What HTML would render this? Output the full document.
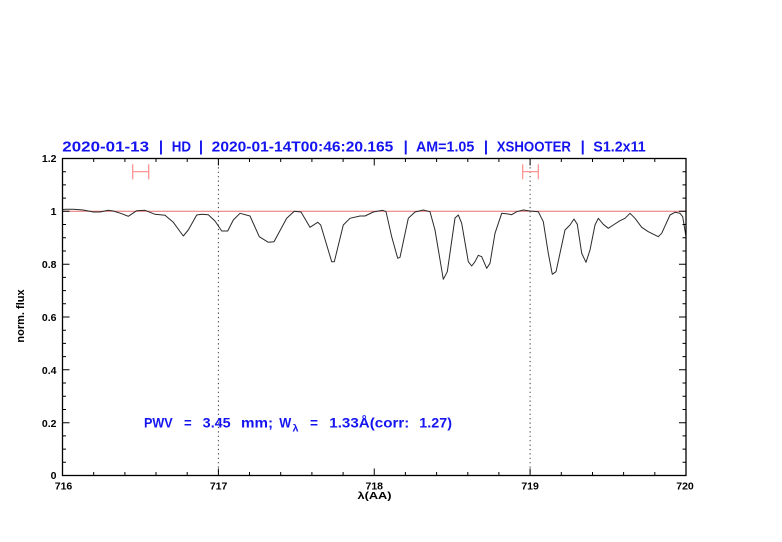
<!DOCTYPE html>
<html>
<head>
<meta charset="utf-8">
<style>
html,body{margin:0;padding:0;background:#fff;}
svg{display:block;}
text{font-family:"Liberation Sans",sans-serif;}
</style>
</head>
<body>
<svg width="782" height="542" viewBox="0 0 782 542" xmlns="http://www.w3.org/2000/svg">
<rect x="0" y="0" width="782" height="542" fill="#fff"/>

<!-- title -->
<g fill="#1414f0" font-size="15" font-weight="bold">
<text x="62.3" y="151.5" textLength="86.7" lengthAdjust="spacingAndGlyphs">2020-01-13</text>
<text x="161" y="151.5" text-anchor="middle">|</text>
<text x="171.7" y="151.5" textLength="19.3" lengthAdjust="spacingAndGlyphs">HD</text>
<text x="201" y="151.5" text-anchor="middle">|</text>
<text x="211.7" y="151.5" textLength="181.6" lengthAdjust="spacingAndGlyphs">2020-01-14T00:46:20.165</text>
<text x="405.7" y="151.5" text-anchor="middle">|</text>
<text x="416" y="151.5" textLength="58.3" lengthAdjust="spacingAndGlyphs">AM=1.05</text>
<text x="486" y="151.5" text-anchor="middle">|</text>
<text x="496.7" y="151.5" textLength="74.3" lengthAdjust="spacingAndGlyphs">XSHOOTER</text>
<text x="582.7" y="151.5" text-anchor="middle">|</text>
<text x="593.3" y="151.5" textLength="52.4" lengthAdjust="spacingAndGlyphs">S1.2x11</text>
</g>

<!-- dotted verticals -->
<g stroke="#333" stroke-width="1" stroke-dasharray="1.2,3.2">
<line x1="218.4" y1="158.5" x2="218.4" y2="475.5"/>
<line x1="530.1" y1="158.5" x2="530.1" y2="475.5"/>
</g>

<!-- continuum line at 1 -->
<line x1="62.5" y1="211.3" x2="686" y2="211.3" stroke="#e87070" stroke-width="1"/>

<!-- error bars -->
<g stroke="#ff8c8c" stroke-width="1.2" fill="none">
<path d="M132.7,171.7H148.7M132.7,164.3V179.3M148.7,164.3V179.3"/>
<path d="M522.7,171.7H538.3M522.7,164.3V179.3M538.3,164.3V179.3"/>
</g>

<!-- spectrum -->
<polyline fill="none" stroke="#2a2a2a" stroke-width="1" stroke-linejoin="round"
points="63,209.5 66,209.3 73.3,209.3 83.3,210 93.3,212 100,212 108.3,210.3 113.3,211 121.7,213.7 128.3,216.3 136.7,210.7 145,210.3 155,214.3 165,215.3 173.3,222.3 183.3,236 188.3,230 196.7,215 201.7,214.3 208.3,214.7 215,221 221.7,231 227.7,231 233.3,220 240,213.3 250,216 259.3,236.7 268.3,242.3 274,241.7 286.7,218.3 294.3,211.3 301,212 310,227.3 317.7,222.3 320.7,225 331.7,261.7 334.3,261.7 343.3,225 350,218.3 360,216 365,216 373.3,212 382.7,210.3 386,211.7 391.7,236.7 397.7,258.3 400,257.3 408.3,218.3 415,212 423.3,210 430,211.7 435,230 443.3,279.3 447.3,271.7 455,218 458.3,215 461.7,223.3 468.3,261.7 471.7,266 475,261.7 478.3,255.3 481.7,256.7 486.7,268.3 490,263.3 495,233.3 501.7,213.3 508.3,214 511.7,214.7 516.7,211.7 523.3,210 530,211 538.3,211.7 543.3,221.7 548.3,253.3 552.3,274.3 556,271.7 565,230 570,225 574,219 577.3,224.3 581.7,253.3 586,262.3 590,250 595,225 598.3,218.3 603.3,224.3 608.3,228.3 613.3,225 620,220.7 625,218.3 630,213.3 635,218.3 641.7,227.3 648.3,231.7 658.3,236.7 661.7,233.3 670,215 675,212.3 680,213.3 682.7,216.7 686,236.7"/>

<!-- frame -->
<rect x="62.5" y="158.5" width="623.5" height="317" fill="none" stroke="#000" stroke-width="1.3"/>

<!-- ticks -->
<g stroke="#000" stroke-width="1">
<path d="M93.7,475.5v-3.5M124.9,475.5v-3.5M156,475.5v-3.5M187.2,475.5v-3.5M218.4,475.5v-7M249.5,475.5v-3.5M280.7,475.5v-3.5M311.9,475.5v-3.5M343.1,475.5v-3.5M374.25,475.5v-7M405.4,475.5v-3.5M436.6,475.5v-3.5M467.8,475.5v-3.5M498.9,475.5v-3.5M530.1,475.5v-7M561.3,475.5v-3.5M592.5,475.5v-3.5M623.6,475.5v-3.5M654.8,475.5v-3.5"/>
<path d="M93.7,158.5v3.5M124.9,158.5v3.5M156,158.5v3.5M187.2,158.5v3.5M218.4,158.5v7M249.5,158.5v3.5M280.7,158.5v3.5M311.9,158.5v3.5M343.1,158.5v3.5M374.25,158.5v7M405.4,158.5v3.5M436.6,158.5v3.5M467.8,158.5v3.5M498.9,158.5v3.5M530.1,158.5v7M561.3,158.5v3.5M592.5,158.5v3.5M623.6,158.5v3.5M654.8,158.5v3.5"/>
<path d="M62.5,462.3h3.5M62.5,449.1h3.5M62.5,435.9h3.5M62.5,422.7h7M62.5,409.5h3.5M62.5,396.25h3.5M62.5,383h3.5M62.5,369.8h7M62.5,356.6h3.5M62.5,343.4h3.5M62.5,330.2h3.5M62.5,317h7M62.5,303.8h3.5M62.5,290.6h3.5M62.5,277.4h3.5M62.5,264.2h7M62.5,251h3.5M62.5,237.7h3.5M62.5,224.5h3.5M62.5,211.3h7M62.5,198.1h3.5M62.5,184.9h3.5M62.5,171.7h3.5"/>
<path d="M686,462.3h-3.5M686,449.1h-3.5M686,435.9h-3.5M686,422.7h-7M686,409.5h-3.5M686,396.25h-3.5M686,383h-3.5M686,369.8h-7M686,356.6h-3.5M686,343.4h-3.5M686,330.2h-3.5M686,317h-7M686,303.8h-3.5M686,290.6h-3.5M686,277.4h-3.5M686,264.2h-7M686,251h-3.5M686,237.7h-3.5M686,224.5h-3.5M686,211.3h-7M686,198.1h-3.5M686,184.9h-3.5M686,171.7h-3.5"/>
</g>

<!-- y tick labels -->
<g fill="#000" font-size="10.5" font-weight="bold" text-anchor="end">
<text x="56.5" y="162">1.2</text>
<text x="56.5" y="215">1</text>
<text x="56.5" y="268">0.8</text>
<text x="56.5" y="321">0.6</text>
<text x="56.5" y="374">0.4</text>
<text x="56.5" y="427">0.2</text>
<text x="56.5" y="479">0</text>
</g>

<!-- x tick labels -->
<g fill="#000" font-size="10.5" font-weight="bold" text-anchor="middle">
<text x="63.5" y="489.5">716</text>
<text x="218.6" y="489.5">717</text>
<text x="374.25" y="489.5">718</text>
<text x="530.1" y="489.5">719</text>
<text x="685" y="489.5">720</text>
</g>

<!-- axis labels -->
<text x="374.5" y="499" font-size="10.5" font-weight="bold" text-anchor="middle" fill="#000" textLength="34" lengthAdjust="spacingAndGlyphs">λ(AA)</text>
<text transform="translate(24,316) rotate(-90)" font-size="11" font-weight="bold" text-anchor="middle" fill="#000">norm. flux</text>

<!-- PWV annotation -->
<g fill="#1414f0" font-size="14" font-weight="bold">
<text x="144" y="427.5" textLength="28.7" lengthAdjust="spacingAndGlyphs">PWV</text>
<text x="184" y="427.5" textLength="7.7" lengthAdjust="spacingAndGlyphs">=</text>
<text x="202.7" y="427.5" textLength="28" lengthAdjust="spacingAndGlyphs">3.45</text>
<text x="241" y="427.5" textLength="32" lengthAdjust="spacingAndGlyphs">mm;</text>
<text x="279.3" y="427.5" textLength="12" lengthAdjust="spacingAndGlyphs">W</text>
<text x="292.5" y="431.5" font-size="10" textLength="6" lengthAdjust="spacingAndGlyphs">λ</text>
<text x="310" y="427.5" textLength="8" lengthAdjust="spacingAndGlyphs">=</text>
<text x="329.3" y="427.5" textLength="80" lengthAdjust="spacingAndGlyphs">1.33Å(corr:</text>
<text x="419.3" y="427.5" textLength="32.7" lengthAdjust="spacingAndGlyphs">1.27)</text>
</g>
</svg>
</body>
</html>
